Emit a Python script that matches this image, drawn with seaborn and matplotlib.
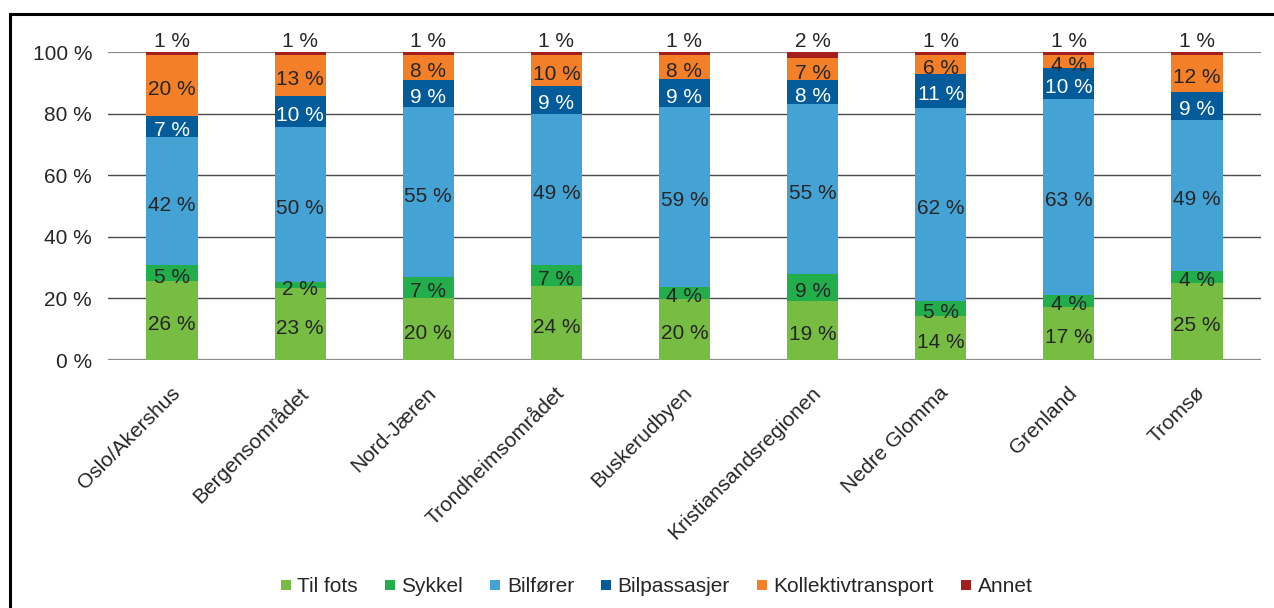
import numpy as np
import pandas as pd
import matplotlib
matplotlib.use("Agg")
import matplotlib.pyplot as plt
import matplotlib.transforms as mtransforms
from matplotlib.lines import Line2D
from matplotlib.patches import Rectangle
import seaborn as sns

# Travel mode shares (%) per urban region
regions = ["Oslo/Akershus", "Bergensområdet", "Nord-Jæren", "Trondheimsområdet",
           "Buskerudbyen", "Kristiansandsregionen", "Nedre Glomma", "Grenland", "Tromsø"]
modes = ["Til fots", "Sykkel", "Bilfører", "Bilpassasjer", "Kollektivtransport", "Annet"]

til_fots = [26, 23, 20, 24, 20, 19, 14, 17, 25]
sykkel = [5, 2, 7, 7, 4, 9, 5, 4, 4]
bilforer = [42, 50, 55, 49, 59, 55, 62, 63, 49]
bilpassasjer = [7, 10, 9, 9, 9, 8, 11, 10, 9]
kollektiv = [20, 13, 8, 10, 8, 7, 6, 4, 12]
annet = [1, 1, 1, 1, 1, 2, 1, 1, 1]

y_ticks = [0, 20, 40, 60, 80, 100]

colors = ["#77BC43", "#22AE4B", "#45A2D5", "#035C99", "#F37F28", "#A51D1D"]
label_colors = ["#262626", "#262626", "#262626", "white", "#262626", "#262626"]

values = pd.DataFrame(
    np.array([til_fots, sykkel, bilforer, bilpassasjer, kollektiv, annet]).T,
    index=regions, columns=modes, dtype=float,
)
# 100 % stacked: scale each region's shares to a full column
shares = values.div(values.sum(axis=1), axis=0) * 100
tops = shares.cumsum(axis=1)
bottoms = tops - shares

sns.set_theme(style="white")
plt.rcParams["font.family"] = ["Liberation Sans", "DejaVu Sans"]
text_color = "#262626"
fs = 15

fig = plt.figure(figsize=(12.74, 6.08), dpi=100)
ax = fig.add_axes([108 / 1274, 1 - 360 / 608, (1261 - 108) / 1274, 308 / 608])

# Draw the stack from the top layer down so each lower layer overlays the one above
for mode, color in reversed(list(zip(modes, colors))):
    layer = pd.DataFrame({"region": regions, "top": tops[mode].values})
    sns.barplot(data=layer, x="region", y="top", order=regions, color=color,
                saturation=1, width=0.4, ax=ax, zorder=3, linewidth=0)

# Segment value labels
label_shift = ax.transData + mtransforms.ScaledTranslation(0, -1.5 / 72, fig.dpi_scale_trans)
for i, region in enumerate(regions):
    for j, mode in enumerate(modes):
        val = int(values.loc[region, mode])
        if mode == "Annet":
            ax.annotate(f"{val} %", xy=(i, 100), xytext=(0, 3.5),
                        textcoords="offset points", ha="center", va="baseline",
                        fontsize=fs, color=text_color, annotation_clip=False)
        else:
            mid = bottoms.loc[region, mode] + shares.loc[region, mode] / 2
            ax.text(i, mid, f"{val} %", ha="center", va="center_baseline",
                    fontsize=fs, color=label_colors[j], zorder=5,
                    transform=label_shift)

ax.set_xlim(-0.5, len(regions) - 0.5)
ax.set_ylim(0, 100)
ax.set_yticks(y_ticks)
ax.set_yticklabels([f"{t} %" for t in y_ticks])
ax.set_xlabel("")
ax.set_ylabel("")
for s in ax.spines.values():
    s.set_visible(False)

# Horizontal gridlines
for t in y_ticks:
    edge = t in (0, 100)
    ax.axhline(t, color="#8a8a8a" if edge else "#4a4a4a",
               lw=1.6 if edge else 1.0, zorder=1)

ax.tick_params(axis="y", length=0, pad=11.5, labelsize=fs, labelcolor=text_color)
ax.tick_params(axis="x", length=0, pad=21.5, labelsize=fs, labelcolor=text_color)
shift = mtransforms.ScaledTranslation(3.5 / 72, 0, fig.dpi_scale_trans)
for lbl in ax.get_xticklabels():
    lbl.set_rotation(45)
    lbl.set_ha("right")
    lbl.set_va("center")
    lbl.set_rotation_mode("anchor")
    lbl.set_transform(lbl.get_transform() + shift)

# Legend with small square markers
handles = [Line2D([0], [0], marker="s", linestyle="", markersize=7.8,
                  markerfacecolor=c, markeredgewidth=0) for c in colors]
fig.legend(handles, modes, loc="center", bbox_to_anchor=(656 / 1274, 1 - 587 / 608),
           ncol=6, frameon=False, fontsize=fs, handlelength=0.6, handletextpad=0.25,
           columnspacing=1.25, borderaxespad=0, labelcolor=text_color)

# Outer frame (left and top edges visible)
fig.add_artist(Rectangle((9.5 / 1274, -0.1), 1.2, 1 - 14 / 608 + 0.1,
                         transform=fig.transFigure, fill=False, lw=2.2,
                         edgecolor="black"))

fig.savefig("out.png", dpi=100)
